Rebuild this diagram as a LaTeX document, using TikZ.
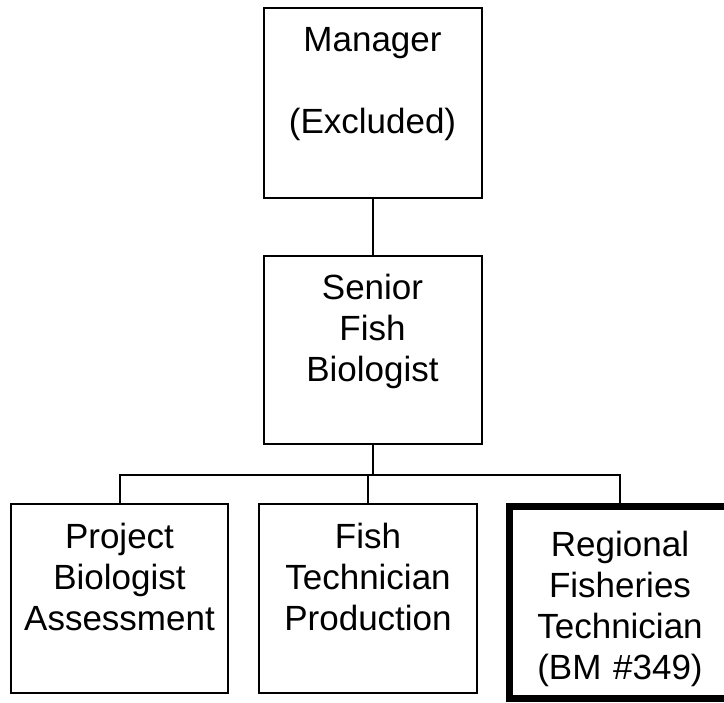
\documentclass[tikz,border=0pt]{standalone}
\usepackage{fontspec}
\setmainfont{Liberation Sans}

\begin{document}
\begin{tikzpicture}[x = 1pt, y = -1pt]
\tikzstyle{BoxStyle}=[draw, anchor = north,
                      inner sep = 0pt, outer sep = 0pt,
                      align = center, text width = 218pt,
                      line width = 2pt,
                      font = \fontsize{35}{41}\selectfont]
\tikzstyle{LineStyle}=[line width = 2pt]

\useasboundingbox (0,0) rectangle (724,703);

\node[BoxStyle, text height = 43.7pt, text depth = 146.3pt] (mgr) at (372.5,8) {Manager\\[41pt](Excluded)};
\node[BoxStyle, text height = 43pt, text depth = 145pt] (sfb) at (372.5,256.5) {Senior\\Fish\\Biologist};
\node[BoxStyle, text width = 217pt, text height = 44pt, text depth = 145pt] (pba) at (119.5,504.3) {Project\\Biologist\\Assessment};
\node[BoxStyle, text height = 44pt, text depth = 145pt] (ftp) at (368,504.3) {Fish\\Technician\\Production};
\node[BoxStyle, text width = 221pt, line width = 7pt, text height = 50pt, text depth = 142pt] (rft) at (620,506.5) {Regional\\Fisheries\\Technician\\(BM \#349)};

\coordinate (bus) at (372.5,475);
\draw[LineStyle] (mgr.south) -- (sfb.north);
\draw[LineStyle] (sfb.south) -- (sfb.south |- bus);
\draw[LineStyle] (pba.north) |- (bus) -| (rft.north);
\draw[LineStyle] (ftp.north) -- (ftp.north |- bus);
\end{tikzpicture}
\end{document}
